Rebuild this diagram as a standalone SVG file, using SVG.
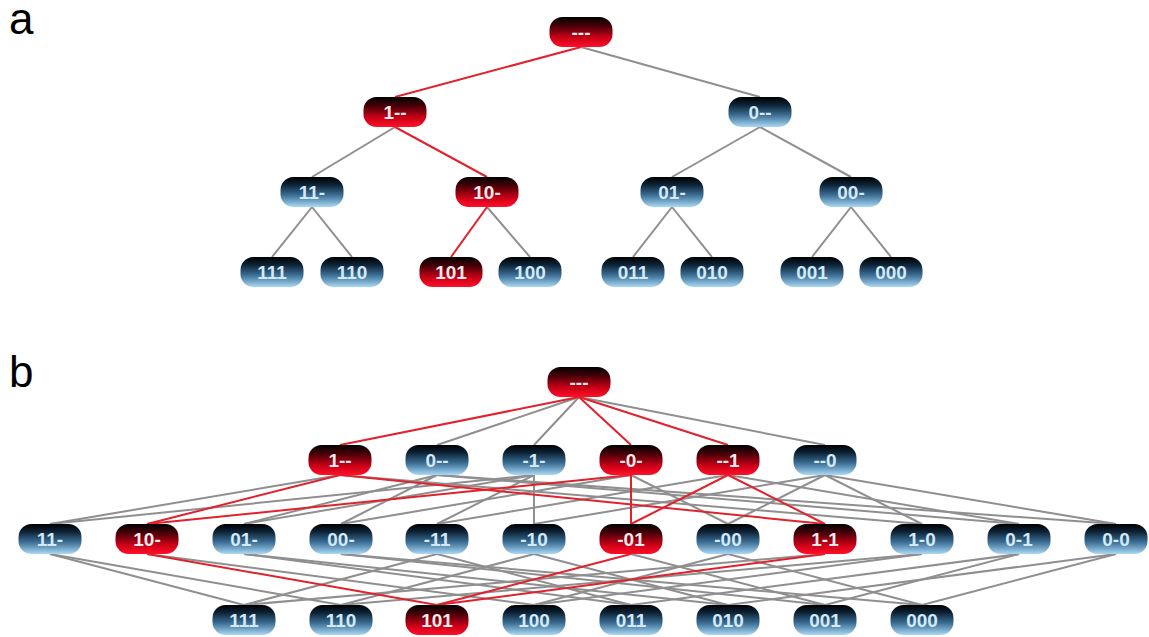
<svg xmlns="http://www.w3.org/2000/svg" width="1149" height="637" viewBox="0 0 1149 637">
<defs>
<linearGradient id="gb" x1="0" y1="0" x2="0" y2="1">
<stop offset="0" stop-color="#000000"/>
<stop offset="0.25" stop-color="#0c2134"/>
<stop offset="0.6" stop-color="#3b6d93"/>
<stop offset="1" stop-color="#a9d9f6"/>
</linearGradient>
<linearGradient id="gr" x1="0" y1="0" x2="0" y2="1">
<stop offset="0" stop-color="#000000"/>
<stop offset="0.3" stop-color="#480008"/>
<stop offset="0.7" stop-color="#cc0018"/>
<stop offset="1" stop-color="#ff1028"/>
</linearGradient>
<style>
.n rect{width:63px;height:30px;rx:13px;ry:13px}
.b rect{fill:url(#gb)}
.r rect{fill:url(#gr)}
.n text{font-family:"Liberation Sans",Arial,sans-serif;font-weight:bold;font-size:19px;text-anchor:middle}
.b text{fill:#d3eaf8}
.r text{fill:#fbeaea}
.g line{stroke:#8f8f8f;stroke-width:2}
.rd line{stroke:#e0222c;stroke-width:2}
.lbl{font-family:"Liberation Sans",Arial,sans-serif;font-size:44px;fill:#000}
</style>
</defs>
<rect width="1149" height="637" fill="#ffffff"/>
<text class="lbl" x="9" y="34">a</text>
<text class="lbl" x="9" y="387">b</text>

<!-- Part a connectors -->
<g id="a-connectors">
<g class="g">
<line x1="581" y1="47" x2="760" y2="97"/>
<line x1="395" y1="127" x2="312" y2="177"/>
<line x1="760" y1="127" x2="672" y2="177"/>
<line x1="760" y1="127" x2="851" y2="177"/>
<line x1="312" y1="207" x2="272" y2="257"/>
<line x1="312" y1="207" x2="352" y2="257"/>
<line x1="487" y1="207" x2="530" y2="257"/>
<line x1="672" y1="207" x2="633" y2="257"/>
<line x1="672" y1="207" x2="712" y2="257"/>
<line x1="851" y1="207" x2="812" y2="257"/>
<line x1="851" y1="207" x2="891" y2="257"/>
</g>
<g class="rd">
<line x1="581" y1="47" x2="395" y2="97"/>
<line x1="395" y1="127" x2="487" y2="177"/>
<line x1="487" y1="207" x2="451" y2="257"/>
</g>
</g>

<!-- Part a nodes -->
<g id="a-root" class="n r"><rect x="549.5" y="17"/><text x="581" y="39">---</text></g>
<g id="a-1xx" class="n r"><rect x="363.5" y="97"/><text x="395" y="119">1--</text></g>
<g id="a-0xx" class="n b"><rect x="728.5" y="97"/><text x="760" y="119">0--</text></g>
<g id="a-11x" class="n b"><rect x="280.5" y="177"/><text x="312" y="199">11-</text></g>
<g id="a-10x" class="n r"><rect x="455.5" y="177"/><text x="487" y="199">10-</text></g>
<g id="a-01x" class="n b"><rect x="640.5" y="177"/><text x="672" y="199">01-</text></g>
<g id="a-00x" class="n b"><rect x="819.5" y="177"/><text x="851" y="199">00-</text></g>
<g id="a-111" class="n b"><rect x="240.5" y="257"/><text x="272" y="279">111</text></g>
<g id="a-110" class="n b"><rect x="320.5" y="257"/><text x="352" y="279">110</text></g>
<g id="a-101" class="n r"><rect x="419.5" y="257"/><text x="451" y="279">101</text></g>
<g id="a-100" class="n b"><rect x="498.5" y="257"/><text x="530" y="279">100</text></g>
<g id="a-011" class="n b"><rect x="601.5" y="257"/><text x="633" y="279">011</text></g>
<g id="a-010" class="n b"><rect x="680.5" y="257"/><text x="712" y="279">010</text></g>
<g id="a-001" class="n b"><rect x="780.5" y="257"/><text x="812" y="279">001</text></g>
<g id="a-000" class="n b"><rect x="859.5" y="257"/><text x="891" y="279">000</text></g>

<!-- Part b connectors -->
<g id="b-connectors">
<g class="g">
<line x1="579" y1="397" x2="437" y2="445"/>
<line x1="579" y1="397" x2="534" y2="445"/>
<line x1="579" y1="397" x2="825" y2="445"/>
<line x1="340" y1="475" x2="50" y2="524"/>
<line x1="340" y1="475" x2="922" y2="524"/>
<line x1="437" y1="475" x2="244" y2="524"/>
<line x1="437" y1="475" x2="341" y2="524"/>
<line x1="437" y1="475" x2="1019" y2="524"/>
<line x1="437" y1="475" x2="1116" y2="524"/>
<line x1="534" y1="475" x2="50" y2="524"/>
<line x1="534" y1="475" x2="244" y2="524"/>
<line x1="534" y1="475" x2="437" y2="524"/>
<line x1="534" y1="475" x2="534" y2="524"/>
<line x1="631" y1="475" x2="341" y2="524"/>
<line x1="631" y1="475" x2="728" y2="524"/>
<line x1="728" y1="475" x2="437" y2="524"/>
<line x1="728" y1="475" x2="1019" y2="524"/>
<line x1="825" y1="475" x2="534" y2="524"/>
<line x1="825" y1="475" x2="728" y2="524"/>
<line x1="825" y1="475" x2="922" y2="524"/>
<line x1="825" y1="475" x2="1116" y2="524"/>
<line x1="50" y1="554" x2="244" y2="605"/>
<line x1="50" y1="554" x2="341" y2="605"/>
<line x1="147" y1="554" x2="534" y2="605"/>
<line x1="244" y1="554" x2="631" y2="605"/>
<line x1="244" y1="554" x2="728" y2="605"/>
<line x1="341" y1="554" x2="825" y2="605"/>
<line x1="341" y1="554" x2="922" y2="605"/>
<line x1="437" y1="554" x2="244" y2="605"/>
<line x1="437" y1="554" x2="631" y2="605"/>
<line x1="534" y1="554" x2="341" y2="605"/>
<line x1="534" y1="554" x2="728" y2="605"/>
<line x1="631" y1="554" x2="825" y2="605"/>
<line x1="728" y1="554" x2="534" y2="605"/>
<line x1="728" y1="554" x2="922" y2="605"/>
<line x1="825" y1="554" x2="244" y2="605"/>
<line x1="922" y1="554" x2="341" y2="605"/>
<line x1="922" y1="554" x2="534" y2="605"/>
<line x1="1019" y1="554" x2="631" y2="605"/>
<line x1="1019" y1="554" x2="825" y2="605"/>
<line x1="1116" y1="554" x2="728" y2="605"/>
<line x1="1116" y1="554" x2="922" y2="605"/>
</g>
<g class="rd">
<line x1="579" y1="397" x2="340" y2="445"/>
<line x1="579" y1="397" x2="631" y2="445"/>
<line x1="579" y1="397" x2="728" y2="445"/>
<line x1="340" y1="475" x2="147" y2="524"/>
<line x1="340" y1="475" x2="825" y2="524"/>
<line x1="631" y1="475" x2="147" y2="524"/>
<line x1="631" y1="475" x2="631" y2="524"/>
<line x1="728" y1="475" x2="631" y2="524"/>
<line x1="728" y1="475" x2="825" y2="524"/>
<line x1="147" y1="554" x2="437" y2="605"/>
<line x1="631" y1="554" x2="437" y2="605"/>
<line x1="825" y1="554" x2="437" y2="605"/>
</g>
</g>

<!-- Part b nodes -->
<g id="b-root" class="n r"><rect x="547.5" y="367"/><text x="579" y="389">---</text></g>
<g id="b-1xx" class="n r"><rect x="308.5" y="445"/><text x="340" y="467">1--</text></g>
<g id="b-0xx" class="n b"><rect x="405.5" y="445"/><text x="437" y="467">0--</text></g>
<g id="b-x1x" class="n b"><rect x="502.5" y="445"/><text x="534" y="467">-1-</text></g>
<g id="b-x0x" class="n r"><rect x="599.5" y="445"/><text x="631" y="467">-0-</text></g>
<g id="b-xx1" class="n r"><rect x="696.5" y="445"/><text x="728" y="467">--1</text></g>
<g id="b-xx0" class="n b"><rect x="793.5" y="445"/><text x="825" y="467">--0</text></g>

<g id="b-11x" class="n b"><rect x="18.5" y="524"/><text x="50" y="546">11-</text></g>
<g id="b-10x" class="n r"><rect x="115.5" y="524"/><text x="147" y="546">10-</text></g>
<g id="b-01x" class="n b"><rect x="212.5" y="524"/><text x="244" y="546">01-</text></g>
<g id="b-00x" class="n b"><rect x="309.5" y="524"/><text x="341" y="546">00-</text></g>
<g id="b-x11" class="n b"><rect x="405.5" y="524"/><text x="437" y="546">-11</text></g>
<g id="b-x10" class="n b"><rect x="502.5" y="524"/><text x="534" y="546">-10</text></g>
<g id="b-x01" class="n r"><rect x="599.5" y="524"/><text x="631" y="546">-01</text></g>
<g id="b-x00" class="n b"><rect x="696.5" y="524"/><text x="728" y="546">-00</text></g>
<g id="b-1x1" class="n r"><rect x="793.5" y="524"/><text x="825" y="546">1-1</text></g>
<g id="b-1x0" class="n b"><rect x="890.5" y="524"/><text x="922" y="546">1-0</text></g>
<g id="b-0x1" class="n b"><rect x="987.5" y="524"/><text x="1019" y="546">0-1</text></g>
<g id="b-0x0" class="n b"><rect x="1084.5" y="524"/><text x="1116" y="546">0-0</text></g>

<g id="b-111" class="n b"><rect x="212.5" y="605"/><text x="244" y="627">111</text></g>
<g id="b-110" class="n b"><rect x="309.5" y="605"/><text x="341" y="627">110</text></g>
<g id="b-101" class="n r"><rect x="405.5" y="605"/><text x="437" y="627">101</text></g>
<g id="b-100" class="n b"><rect x="502.5" y="605"/><text x="534" y="627">100</text></g>
<g id="b-011" class="n b"><rect x="599.5" y="605"/><text x="631" y="627">011</text></g>
<g id="b-010" class="n b"><rect x="696.5" y="605"/><text x="728" y="627">010</text></g>
<g id="b-001" class="n b"><rect x="793.5" y="605"/><text x="825" y="627">001</text></g>
<g id="b-000" class="n b"><rect x="890.5" y="605"/><text x="922" y="627">000</text></g>
</svg>
